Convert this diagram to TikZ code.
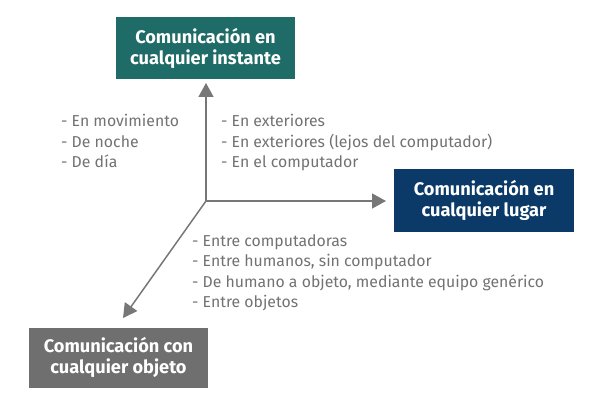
\documentclass[tikz,border=0pt]{standalone}
\usepackage{fontspec}
\setmainfont{Fira Sans}
\usetikzlibrary{arrows.meta}
\definecolor{tealbox}{HTML}{1E6B67}
\definecolor{navybox}{HTML}{0B3A68}
\definecolor{graybox}{HTML}{6F6F6F}
\definecolor{arrowgray}{HTML}{777777}
\definecolor{textgray}{HTML}{727272}
\begin{document}
\begin{tikzpicture}[x=1pt,y=-1pt,
  boxstyle/.style={rectangle, inner sep=0pt, text=white, align=center,
    font=\fontsize{18.2}{21}\selectfont\bfseries},
  itemtext/.style={anchor=base west, inner sep=0pt, text=textgray,
    font=\fontsize{15.8}{20}\selectfont},
  axis/.style={draw=arrowgray, line width=1.5pt,
    -{Triangle[length=14pt,width=15pt]}}]
\useasboundingbox (0,0) rectangle (602,406);
\node[boxstyle, fill=tealbox, minimum width=179pt, minimum height=62pt] (inst) at (205.5,48) {Comunicación en\\cualquier instante};
\node[boxstyle, fill=navybox, minimum width=180pt, minimum height=63pt] (lugar) at (484,200.5) {Comunicación en\\cualquier lugar};
\node[boxstyle, fill=graybox, minimum width=179pt, minimum height=60pt] (obj) at (118.5,357.5) {Comunicación con\\cualquier objeto};
\coordinate (o) at (206,201);
\coordinate (tipup) at (206,83);
\coordinate (tipright) at (386,201);
\coordinate (tipdown) at (123,318);
\draw[axis] (o) -- (tipup);
\draw[axis] (o) -- (tipright);
\draw[axis] (o) -- (tipdown);
\node[itemtext] (l1) at (61,127) {- En movimiento};
\node[itemtext] (l2) at (61,147.5) {- De noche};
\node[itemtext] (l3) at (61,168) {- De día};
\node[itemtext] (r1) at (221,127) {- En exteriores};
\node[itemtext] (r2) at (221,147.5) {- En exteriores (lejos del computador)};
\node[itemtext] (r3) at (221,168) {- En el computador};
\node[itemtext] (b1) at (192,246) {- Entre computadoras};
\node[itemtext] (b2) at (192,266.5) {- Entre humanos, sin computador};
\node[itemtext] (b3) at (192,287) {- De humano a objeto, mediante equipo genérico};
\node[itemtext] (b4) at (192,307.5) {- Entre objetos};
\end{tikzpicture}
\end{document}
